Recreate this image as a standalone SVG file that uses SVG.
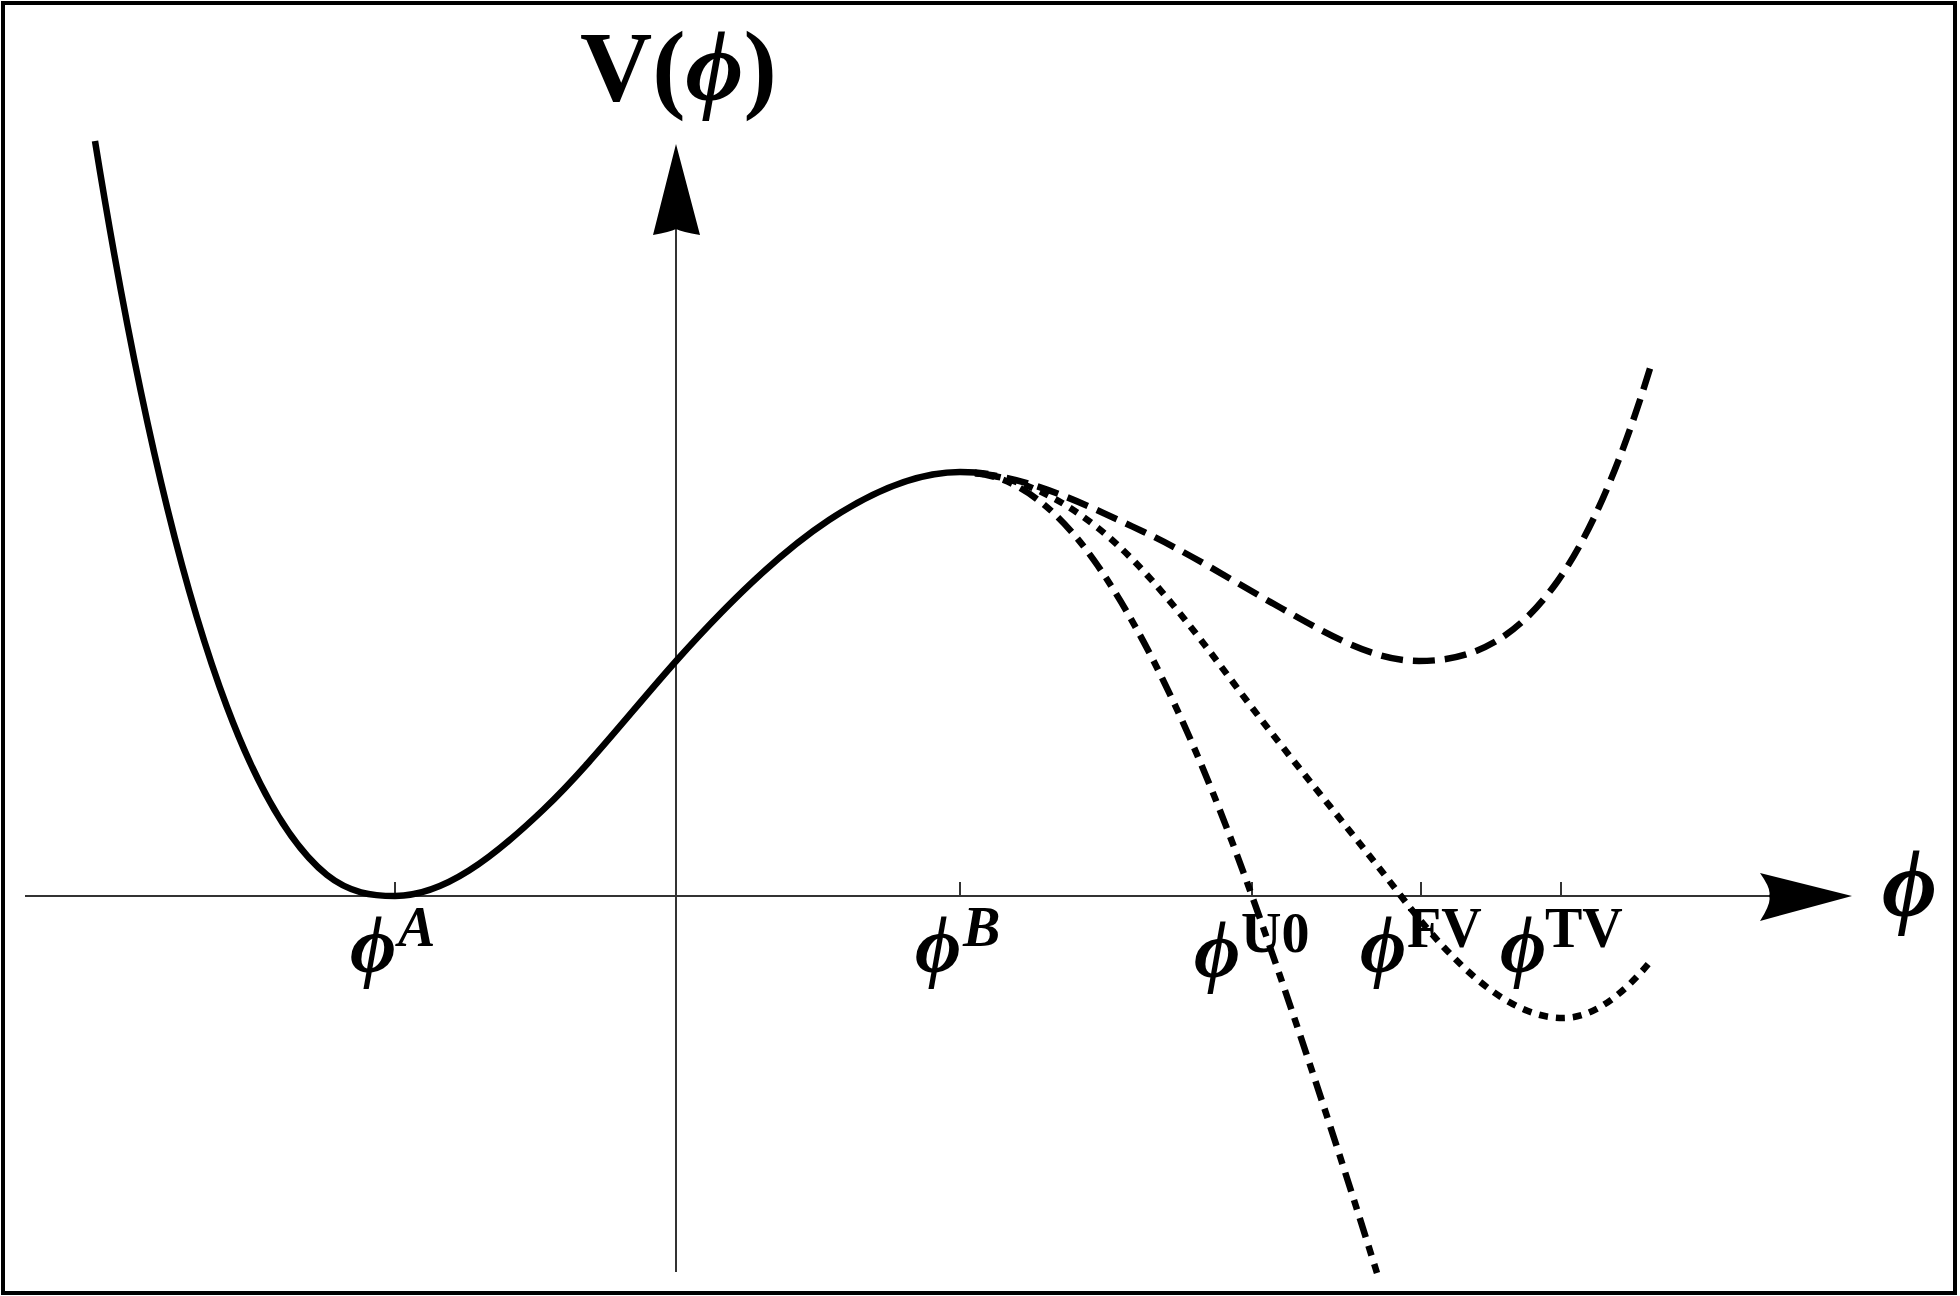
<svg xmlns="http://www.w3.org/2000/svg" width="1960" height="1296" viewBox="0 0 1960 1296">
<style>
.frame{fill:none;stroke:#000;stroke-width:4}
.axis{fill:none;stroke:#333;stroke-width:2}
.head{fill:#000;stroke:none}
.curve{fill:none;stroke:#000;stroke-width:6.5;stroke-linecap:butt}
.fv{stroke-dasharray:22 10}
.tv{stroke-dasharray:9 8}
.u0{stroke-dasharray:20 9 10 9}
text{font-family:"Liberation Serif","Times New Roman",serif;font-weight:bold;fill:#000}
.it{font-style:italic}
.ph{font-style:italic;font-size:80px}
.sup{font-size:56px}
</style>
<rect class="frame" x="3" y="3" width="1952" height="1290"/>
<g id="axes">
<line class="axis" x1="25" y1="896" x2="1775" y2="896"/>
<path class="head" d="M1852,896 L1760,873 Q1772,890 1769,896 Q1772,902 1760,921 Z"/>
<line class="axis" x1="676" y1="1272" x2="676" y2="225"/>
<path class="head" d="M676,144 L653,235 Q670,232 676,229 Q682,232 700,235 Z"/>
<g id="ticks">
<line class="axis" x1="395" y1="882" x2="395" y2="896"/>
<line class="axis" x1="960" y1="882" x2="960" y2="896"/>
<line class="axis" x1="1252" y1="882" x2="1252" y2="896"/>
<line class="axis" x1="1421" y1="882" x2="1421" y2="896"/>
<line class="axis" x1="1561" y1="882" x2="1561" y2="896"/>
</g>
</g>
<g id="connectors">
<path id="solid" class="curve" d="M95,141 C139,413.8 183,590.4 227,707 C260.3,795.3 293.7,848.3 327,875 C349.7,893.1 372.3,896 395,896 C444.3,896 493.7,856.9 543,810 C587.7,767.6 632.3,710 677,660 C727.7,603.3 778.3,553.4 829,520 C872.7,491.2 916.3,472 960,472 C970,472 980,472.5 988,474"/>
<path id="curve-fv" class="curve fv" d="M975,473 C1031.3,477.5 1087.7,505.5 1144,532 C1189.7,553.5 1235.3,582.4 1281,608 C1327,633.8 1373,661 1419,661 C1465,661 1511,646.4 1557,582 C1588.7,537.7 1620.3,466.5 1652,362"/>
<path id="curve-tv" class="curve tv" d="M975,473 C1016,477.1 1057,495.2 1098,528 C1143.7,564.5 1189.3,623.8 1235,685 C1290.3,759.2 1345.7,824.1 1401,896 C1455,966.2 1509,1018 1563,1018 C1592,1018 1621,996.8 1650,962"/>
<path id="curve-u0" class="curve u0" d="M975,473 C1016,477.1 1057,506.5 1098,566 C1149.3,640.4 1200.7,752.3 1252,896 C1293.7,1012.7 1335.3,1139.7 1377,1273"/>
</g>
<g id="label-V">
<text x="580" y="100" font-size="100">V(<tspan class="it">ϕ</tspan>)</text>
</g>
<g id="label-phi-axis">
<text class="it" x="1882" y="916" font-size="95">ϕ</text>
</g>
<g id="label-A"><text><tspan class="ph" x="350" y="972">ϕ</tspan><tspan class="sup it" x="398" y="946">A</tspan></text></g>
<g id="label-B"><text><tspan class="ph" x="915" y="972">ϕ</tspan><tspan class="sup it" x="963" y="946">B</tspan></text></g>
<g id="label-U0"><text><tspan class="ph" x="1194" y="977">ϕ</tspan><tspan class="sup" x="1241" y="952">U0</tspan></text></g>
<g id="label-FV"><text><tspan class="ph" x="1360" y="972">ϕ</tspan><tspan class="sup" x="1407" y="947">FV</tspan></text></g>
<g id="label-TV"><text><tspan class="ph" x="1500" y="972">ϕ</tspan><tspan class="sup" x="1545" y="947">TV</tspan></text></g>
</svg>
